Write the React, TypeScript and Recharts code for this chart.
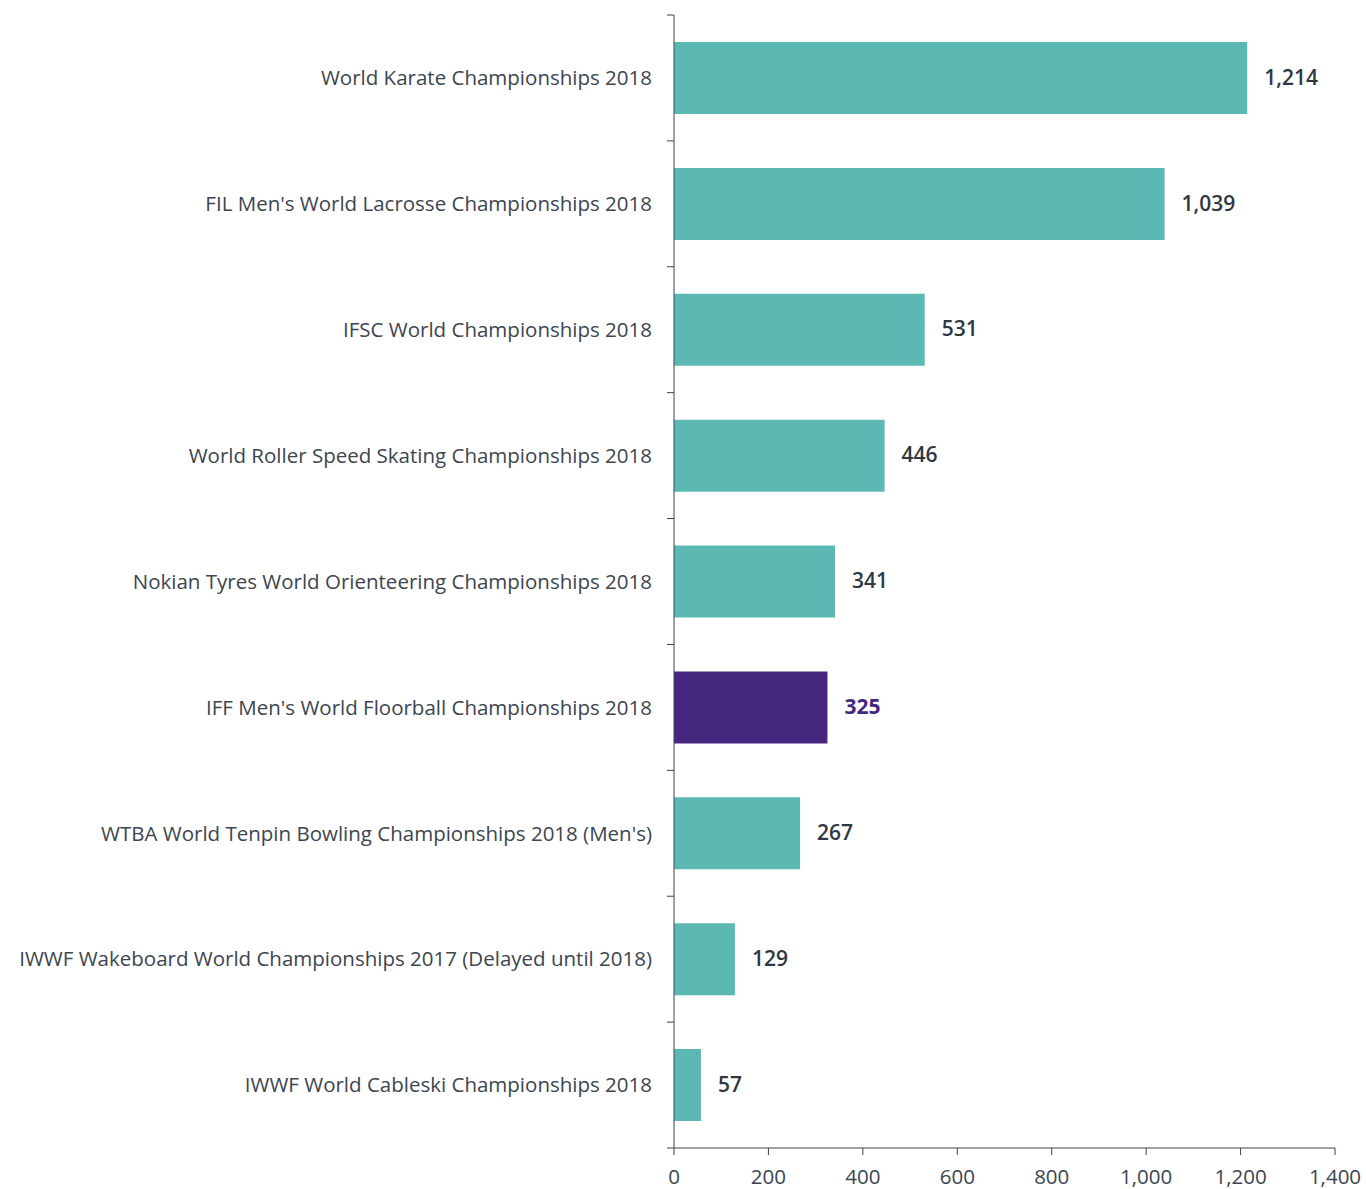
import { BarChart, Bar, XAxis, YAxis, Cell, LabelList } from "recharts";

const events = [
  "World Karate Championships 2018",
  "FIL Men's World Lacrosse Championships 2018",
  "IFSC World Championships 2018",
  "World Roller Speed Skating Championships 2018",
  "Nokian Tyres World Orienteering Championships 2018",
  "IFF Men's World Floorball Championships 2018",
  "WTBA World Tenpin Bowling Championships 2018 (Men's)",
  "IWWF Wakeboard World Championships 2017 (Delayed until 2018)",
  "IWWF World Cableski Championships 2018",
];
const values = [1214, 1039, 531, 446, 341, 325, 267, 129, 57];
const highlight = "IFF Men's World Floorball Championships 2018";
const xTicks = [0, 200, 400, 600, 800, 1000, 1200, 1400];

const TEAL = "#5cb8b3";
const PURPLE = "#45277f";
const TEXT = "#3c4550";
const FONT = "'Open Sans', Lato, sans-serif";
const TICK = 7;
const GAP = 15;

const data = events.map((name, i) => ({ name, value: values[i] }));

const fmt = (v: number) => v.toLocaleString("en-US");

// category label plus tick marks at the band edges instead of the centre
function CategoryTick(props: any) {
  const { x, y, payload, index } = props;
  const half = payload.offset ?? 0;
  const x0 = x + GAP;
  const x1 = x0 + TICK;
  return (
    <g>
      <line x1={x0} x2={x1} y1={y - half} y2={y - half} stroke={TEXT} />
      {index === events.length - 1 && (
        <line x1={x0} x2={x1} y1={y + half} y2={y + half} stroke={TEXT} />
      )}
      <text x={x} y={y} dy="0.355em" textAnchor="end" fill={TEXT} fontSize={20.5} fontFamily={FONT}>
        {payload.value}
      </text>
    </g>
  );
}

export default function App() {
  return (
    <div style={{ position: "absolute", left: 0, top: 0, background: "#fff" }}>
      <BarChart
        width={1366}
        height={1189}
        data={data}
        layout="vertical"
        margin={{ top: 15, right: 31, bottom: 0, left: 0 }}
        barCategoryGap={27}
        style={{ fontFamily: FONT }}
      >
        <XAxis
          type="number"
          domain={[0, 1400]}
          ticks={xTicks}
          height={41}
          tickSize={TICK}
          tickMargin={14}
          tickFormatter={fmt}
          stroke={TEXT}
          tick={{ fill: TEXT, fontSize: 20.5, fontFamily: FONT }}
        />
        <YAxis
          type="category"
          dataKey="name"
          width={674}
          tickLine={false}
          tickSize={TICK}
          tickMargin={GAP}
          stroke={TEXT}
          interval={0}
          tick={<CategoryTick />}
        />
        <Bar dataKey="value" isAnimationActive={false}>
          {data.map((d) => (
            <Cell key={d.name} fill={d.name === highlight ? PURPLE : TEAL} />
          ))}
          <LabelList
            dataKey="value"
            content={(p: any) => {
              const isHl = data[p.index]?.name === highlight;
              return (
                <text
                  x={p.x + p.width + 17}
                  y={p.y + p.height / 2 + 1}
                  dominantBaseline="middle"
                  fontSize={21}
                  fontFamily={FONT}
                  fontWeight={isHl ? 700 : 600}
                  fill={isHl ? PURPLE : "#2f3742"}
                >
                  {fmt(p.value)}
                </text>
              );
            }}
          />
        </Bar>
      </BarChart>
    </div>
  );
}
